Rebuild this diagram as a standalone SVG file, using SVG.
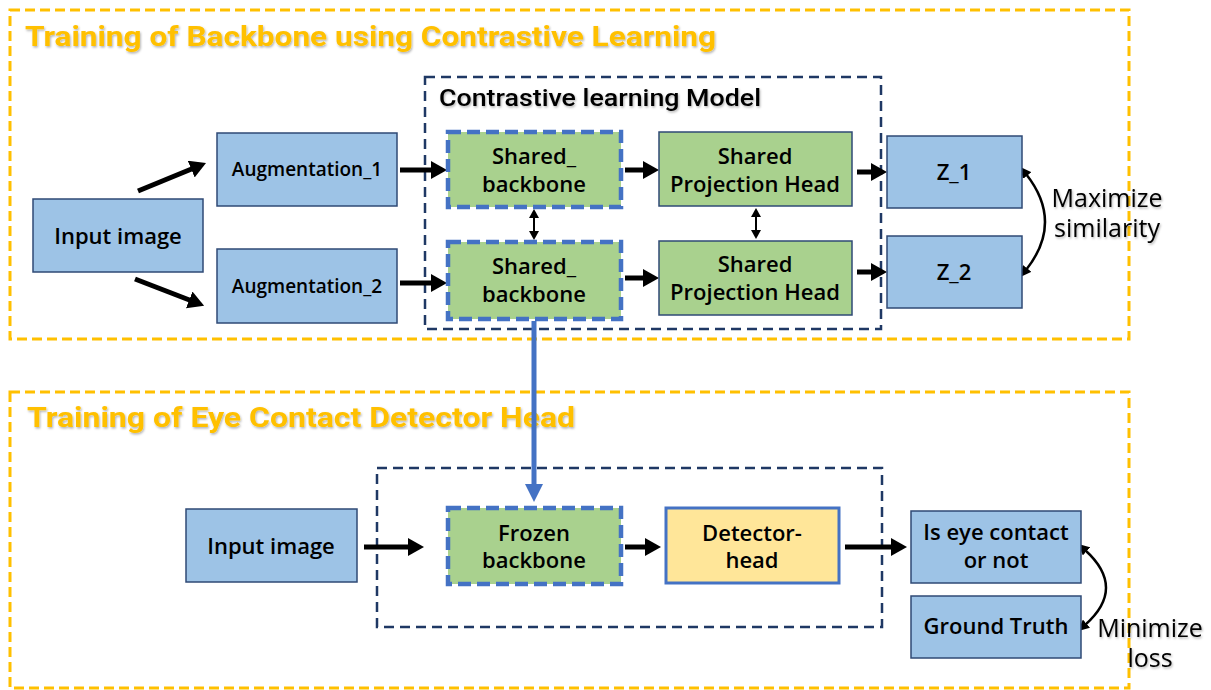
<svg xmlns="http://www.w3.org/2000/svg" width="1211" height="690" viewBox="0 0 1211 690">
  <defs>
    <style>
      .stage { fill: none; stroke: #FFC000; stroke-width: 3; stroke-dasharray: 10 5; }
      .model { fill: none; stroke: #1F3864; stroke-width: 2.5; stroke-dasharray: 10 6; }
      .title { font-family: Roboto, "Liberation Sans", sans-serif; font-weight: 700; font-size: 28px; fill: #FFC000; }
      .label { font-family: "Open Sans", "Liberation Sans", sans-serif; font-weight: 600; font-size: 22px; fill: #000; text-anchor: middle; }
      .small { font-size: 19px; }
      .note { font-family: "Open Sans", "Liberation Sans", sans-serif; font-weight: 500; font-size: 25px; fill: #000; text-anchor: middle; }
      .blue { fill: #9DC3E6; stroke: #2F4A75; stroke-width: 1.5; }
      .green { fill: #A9D18E; stroke: #2F4A75; stroke-width: 1.5; }
      .shared { fill: #A9D18E; stroke: #4472C4; stroke-width: 4.5; stroke-dasharray: 13 6; }
      .detector { fill: #FFE699; stroke: #4472C4; stroke-width: 3; }
      .flow { stroke: #000; stroke-width: 5; fill: none; marker-end: url(#head); }
      .link { stroke: #000; stroke-width: 2; fill: none; marker-start: url(#tip); marker-end: url(#tip); }
      .curve { stroke: #000; stroke-width: 2.5; fill: none; marker-start: url(#tip2); marker-end: url(#tip2); }
    </style>
    <filter id="shadow" x="-5%" y="-30%" width="110%" height="160%">
      <feDropShadow dx="1" dy="1.5" stdDeviation="1" flood-color="#000" flood-opacity="0.3"/>
    </filter>
    <marker id="head" markerUnits="userSpaceOnUse" viewBox="0 0 16 18" markerWidth="16" markerHeight="18" refX="3" refY="9" orient="auto">
      <path d="M0,0 L16,9 L0,18 z" fill="#000"/>
    </marker>
    <marker id="bluehead" markerUnits="userSpaceOnUse" viewBox="0 0 18 18" markerWidth="18" markerHeight="18" refX="3" refY="9" orient="auto">
      <path d="M0,0 L18,9 L0,18 z" fill="#4472C4"/>
    </marker>
    <marker id="tip" markerUnits="userSpaceOnUse" viewBox="0 0 9 10" markerWidth="9" markerHeight="10" refX="2" refY="5" orient="auto-start-reverse">
      <path d="M0,0 L9,5 L0,10 z" fill="#000"/>
    </marker>
    <marker id="tip2" markerUnits="userSpaceOnUse" viewBox="0 0 11 11" markerWidth="11" markerHeight="11" refX="2" refY="5.5" orient="auto-start-reverse">
      <path d="M0,0 L11,5.5 L0,11 z" fill="#000"/>
    </marker>
  </defs>

  <rect width="1211" height="690" fill="#fff"/>

  <!-- stage frames -->
  <g id="stage-pretrain">
    <rect class="stage" x="10" y="10" width="1119" height="329"/>
    <text class="title" x="25" y="46" textLength="691" lengthAdjust="spacingAndGlyphs" filter="url(#shadow)">Training of Backbone using Contrastive Learning</text>
  </g>
  <g id="stage-detector">
    <rect class="stage" x="10" y="392" width="1119" height="296"/>
    <text class="title" x="27" y="427" textLength="548" lengthAdjust="spacingAndGlyphs" filter="url(#shadow)">Training of Eye Contact Detector Head</text>
  </g>

  <!-- model frames -->
  <g id="contrastive-model">
    <rect class="model" x="425" y="77" width="456" height="252"/>
    <text x="439" y="106" font-family="Roboto, 'Liberation Sans', sans-serif" font-weight="500" font-size="23" textLength="322" lengthAdjust="spacingAndGlyphs" filter="url(#shadow)">Contrastive learning Model</text>
  </g>
  <g id="detector-model">
    <rect class="model" x="377" y="468" width="505" height="159"/>
  </g>

  <!-- connectors -->
  <g id="connectors">
    <line class="flow" x1="138" y1="191" x2="194" y2="168"/>
    <line class="flow" x1="135" y1="279" x2="192" y2="301"/>
    <line class="flow" x1="400" y1="170" x2="434" y2="170"/>
    <line class="flow" x1="400" y1="283" x2="434" y2="283"/>
    <line class="flow" x1="625" y1="170" x2="646" y2="170"/>
    <line class="flow" x1="625" y1="278" x2="646" y2="278"/>
    <line class="flow" x1="857" y1="172" x2="874" y2="172"/>
    <line class="flow" x1="857" y1="272" x2="874" y2="272"/>
    <line class="link" x1="534" y1="216" x2="534" y2="233"/>
    <line class="link" x1="756" y1="215" x2="756" y2="232"/>
    <path class="curve" d="M1026,174 Q1064,222 1026,270"/>
    <line x1="534" y1="321" x2="534" y2="487" stroke="#4472C4" stroke-width="5" marker-end="url(#bluehead)"/>
    <line class="flow" x1="364" y1="547" x2="411" y2="547"/>
    <line class="flow" x1="625" y1="547" x2="648" y2="547"/>
    <line class="flow" x1="845" y1="547" x2="894" y2="547"/>
    <path class="curve" d="M1085,550 Q1127,588 1085,625"/>
  </g>

  <!-- contrastive stage nodes -->
  <g id="input-image">
    <rect class="blue" x="33" y="199" width="170" height="73"/>
    <text class="label" x="118" y="244">Input image</text>
  </g>
  <g id="augmentation-1">
    <rect class="blue" x="217" y="133" width="180" height="73"/>
    <text class="label small" x="307" y="176">Augmentation_1</text>
  </g>
  <g id="augmentation-2">
    <rect class="blue" x="217" y="249" width="180" height="74"/>
    <text class="label small" x="307" y="293">Augmentation_2</text>
  </g>
  <g id="shared-backbone-1">
    <rect class="shared" x="448" y="132" width="173" height="75"/>
    <text class="label"><tspan x="534" y="164">Shared_</tspan><tspan x="534" y="192">backbone</tspan></text>
  </g>
  <g id="shared-backbone-2">
    <rect class="shared" x="448" y="242" width="173" height="77"/>
    <text class="label"><tspan x="534" y="274">Shared_</tspan><tspan x="534" y="302">backbone</tspan></text>
  </g>
  <g id="projection-head-1">
    <rect class="green" x="659" y="132" width="193" height="74"/>
    <text class="label"><tspan x="755" y="164">Shared</tspan><tspan x="755" y="192">Projection Head</tspan></text>
  </g>
  <g id="projection-head-2">
    <rect class="green" x="659" y="241" width="193" height="74"/>
    <text class="label"><tspan x="755" y="272">Shared</tspan><tspan x="755" y="300">Projection Head</tspan></text>
  </g>
  <g id="z-1">
    <rect class="blue" x="887" y="136" width="135" height="72"/>
    <text class="label" x="954" y="180" font-size="21">Z_1</text>
  </g>
  <g id="z-2">
    <rect class="blue" x="887" y="236" width="135" height="72"/>
    <text class="label" x="954" y="280" font-size="21">Z_2</text>
  </g>
  <g id="maximize-similarity" filter="url(#shadow)">
    <text class="note"><tspan x="1107" y="207">Maximize</tspan><tspan x="1107" y="237">similarity</tspan></text>
  </g>

  <!-- detector stage nodes -->
  <g id="input-image-2">
    <rect class="blue" x="186" y="509" width="171" height="73"/>
    <text class="label" x="271" y="554">Input image</text>
  </g>
  <g id="frozen-backbone">
    <rect class="shared" x="448" y="508" width="173" height="76"/>
    <text class="label"><tspan x="534" y="541">Frozen</tspan><tspan x="534" y="568">backbone</tspan></text>
  </g>
  <g id="detector-head">
    <rect class="detector" x="666" y="508" width="173" height="75"/>
    <text class="label"><tspan x="752" y="541">Detector-</tspan><tspan x="752" y="568">head</tspan></text>
  </g>
  <g id="eye-contact">
    <rect class="blue" x="911" y="511" width="170" height="72"/>
    <text class="label"><tspan x="996" y="540">Is eye contact</tspan><tspan x="996" y="568">or not</tspan></text>
  </g>
  <g id="ground-truth">
    <rect class="blue" x="911" y="596" width="170" height="62"/>
    <text class="label" x="996" y="634">Ground Truth</text>
  </g>
  <g id="minimize-loss" filter="url(#shadow)">
    <text class="note"><tspan x="1150" y="637">Minimize</tspan><tspan x="1150" y="667">loss</tspan></text>
  </g>
</svg>
